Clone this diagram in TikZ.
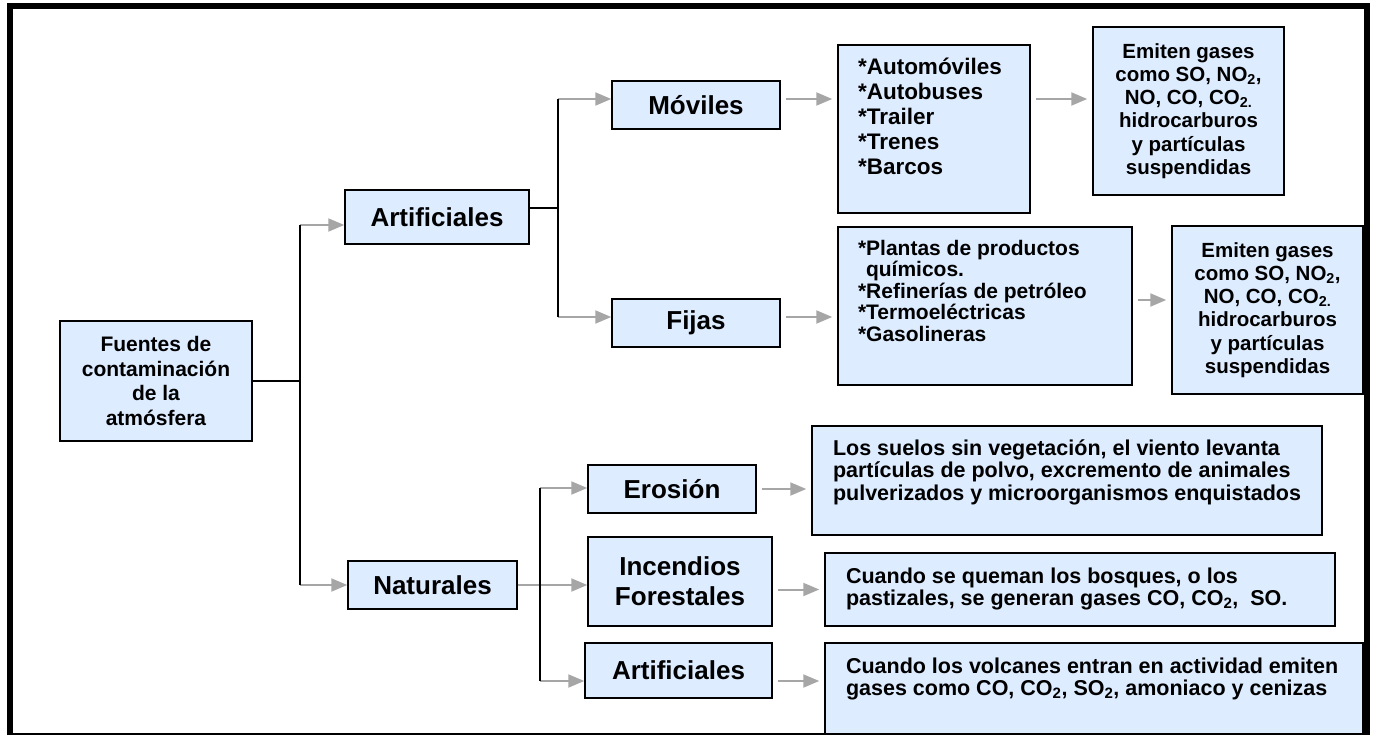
\documentclass[tikz,border=0pt]{standalone}
\usepackage{fontspec}
\setmainfont{Liberation Sans}
\usetikzlibrary{arrows.meta,shadows}
\definecolor{boxblue}{RGB}{221,236,255}
\definecolor{arrowgray}{RGB}{166,166,166}

\begin{document}
\begin{tikzpicture}[x=1pt,y=-1pt]
      \tikzstyle{STY1} = [draw, rectangle, line width=1.5pt, fill=boxblue, inner sep=0pt, drop shadow={shadow xshift=1pt, shadow yshift=-1pt, fill=black!25, opacity=1}]
      \tikzstyle{STY2} = [-{Triangle[length=16pt, width=13pt]}, draw=arrowgray, line width=2pt]
      \tikzstyle{STY3} = [draw=black, line width=2pt]
      \tikzstyle{STY4} = [shorten <=5pt, shorten >=5pt]
      \tikzstyle{FNT1} = [font=\fontsize{26}{30}\selectfont\bfseries, align=center]
      \tikzstyle{FNT2} = [font=\fontsize{20.5}{23.2}\selectfont\bfseries, align=center]
      \tikzstyle{FNT3} = [font=\fontsize{21.5}{22.5}\selectfont\bfseries]

      \useasboundingbox (0,0) rectangle (1375,736);

      %%%%% FRAME

      \draw[line width=6pt] (9.5,735) -- (9.5,6) -- (1366.5,6) -- (1366.5,735);
      \draw[line width=2pt] (9.5,734) -- (1366.5,734);

      %%%%% VERTEX

      \node[STY1, minimum width=192pt, minimum height=120pt, font=\fontsize{21}{24.5}\selectfont\bfseries, align=center](v0) at (156, 381) {Fuentes de\\contaminación\\de la\\atmósfera};

      \node[STY1, FNT1, minimum width=184pt, minimum height=54pt](v1) at (437, 217) {Artificiales};
      \node[STY1, FNT1, minimum width=169pt, minimum height=48pt](v2) at (432.5, 585) {Naturales};

      \node[STY1, FNT1, minimum width=168pt, minimum height=48pt](v3) at (696, 105) {Móviles};
      \node[STY1, FNT1, minimum width=168pt, minimum height=48pt](v4) at (696, 323) {Fijas};

      \node[STY1, FNT1, minimum width=168pt, minimum height=48pt](v5) at (672, 489) {Erosión};
      \node[STY1, FNT1, minimum width=184pt, minimum height=89pt](v6) at (680, 581.5) {Incendios\\Forestales};
      \node[STY1, FNT1, minimum width=187pt, minimum height=55pt](v7) at (678.5, 670.5) {Artificiales};

      \node[STY1, minimum width=192pt, minimum height=168pt, font=\fontsize{22.5}{25}\selectfont\bfseries](v8) at (934, 129) {\parbox[c][168pt][t]{152pt}{\rule{0pt}{29pt}*Automóviles\\{}*Autobuses\\{}*Trailer\\{}*Trenes\\{}*Barcos}};
      \node[STY1, FNT2, minimum width=191pt, minimum height=168pt](v9) at (1188.5, 111) {Emiten gases\\como SO, NO\textsubscript{2},\\NO, CO, CO\textsubscript{2.}\\hidrocarburos\\y partículas\\suspendidas};

      \node[STY1, minimum width=294pt, minimum height=158pt, font=\fontsize{21}{21.5}\selectfont\bfseries](v10) at (985, 306) {\parbox[c][158pt][t]{254pt}{\rule{0pt}{28pt}*Plantas de productos\\\hspace*{8pt}químicos.\\{}*Refinerías de petróleo\\{}*Termoeléctricas\\{}*Gasolineras}};
      \node[STY1, FNT2, minimum width=191pt, minimum height=168pt](v11) at (1267.5, 310) {Emiten gases\\como SO, NO\textsubscript{2},\\NO, CO, CO\textsubscript{2.}\\hidrocarburos\\y partículas\\suspendidas};

      \node[STY1, FNT3, minimum width=510pt, minimum height=109pt](v12) at (1067, 480.5) {\parbox[c][109pt][t]{468pt}{\rule{0pt}{29pt}Los suelos sin vegetación, el viento levanta\\partículas de polvo, excremento de animales\\pulverizados y microorganismos enquistados}};
      \node[STY1, FNT3, minimum width=510pt, minimum height=73pt](v13) at (1080, 589.5) {\parbox[c][73pt][t]{468pt}{\rule{0pt}{30pt}Cuando se queman los bosques, o los\\pastizales, se generan gases CO, CO\textsubscript{2},~~SO.}};
      \node[STY1, FNT3, minimum width=538pt, minimum height=91pt](v14) at (1094, 688.5) {\parbox[c][91pt][t]{496pt}{\rule{0pt}{30pt}Cuando los volcanes entran en actividad emiten\\gases como CO, CO\textsubscript{2}, SO\textsubscript{2}, amoniaco y cenizas}};

      \coordinate (b0) at (300, 381);
      \coordinate (b1) at (300, 225);
      \coordinate (b2) at (300, 585);
      \coordinate (b3) at (558, 208);
      \coordinate (b4) at (558, 99);
      \coordinate (b5) at (558, 317);
      \coordinate (b6) at (540, 488);
      \coordinate (b7) at (540, 681);

      %%%%% EDGES

      \draw[STY2]  (b1) -- (b1 -| v1.west);
      \draw[STY2]  (b2) -- (b2 -| v2.west);
      \draw[STY3]  (v0) -- (b0);
      \draw[STY3]  (b1) -- (b2);

      \draw[STY2]  (b4) -- (b4 -| v3.west);
      \draw[STY2]  (b5) -- (b5 -| v4.west);
      \draw[STY3]  (b3 -| v1.east) -- (b3);
      \draw[STY3]  (b4) -- (b5);

      \draw[STY2, STY4]  (b4 -| v3.east) -- (b4 -| v8.west);
      \draw[STY2, STY4]  (b4 -| v8.east) -- (b4 -| v9.west);
      \draw[STY2, STY4]  (b5 -| v4.east) -- (b5 -| v10.west);
      \draw[STY2, STY4]  ([yshift=6pt]v10.east) -- ([yshift=6pt]v10.east -| v11.west);

      \draw[STY2]  (v2) -- (v2 -| v6.west);
      \draw[STY2]  (b6) -- (b6 -| v5.west);
      \draw[STY2]  (b7) -- (b7 -| v7.west);
      \draw[STY3]  (b6) -- (b7);

      \draw[STY2, STY4]  (v5) -- (v5 -| v12.west);
      \draw[STY2, STY4]  (v6.east |- v13.west) -- (v13.west);
      \draw[STY2, STY4]  (b7 -| v7.east) -- (b7 -| v14.west);
\end{tikzpicture}
\end{document}
